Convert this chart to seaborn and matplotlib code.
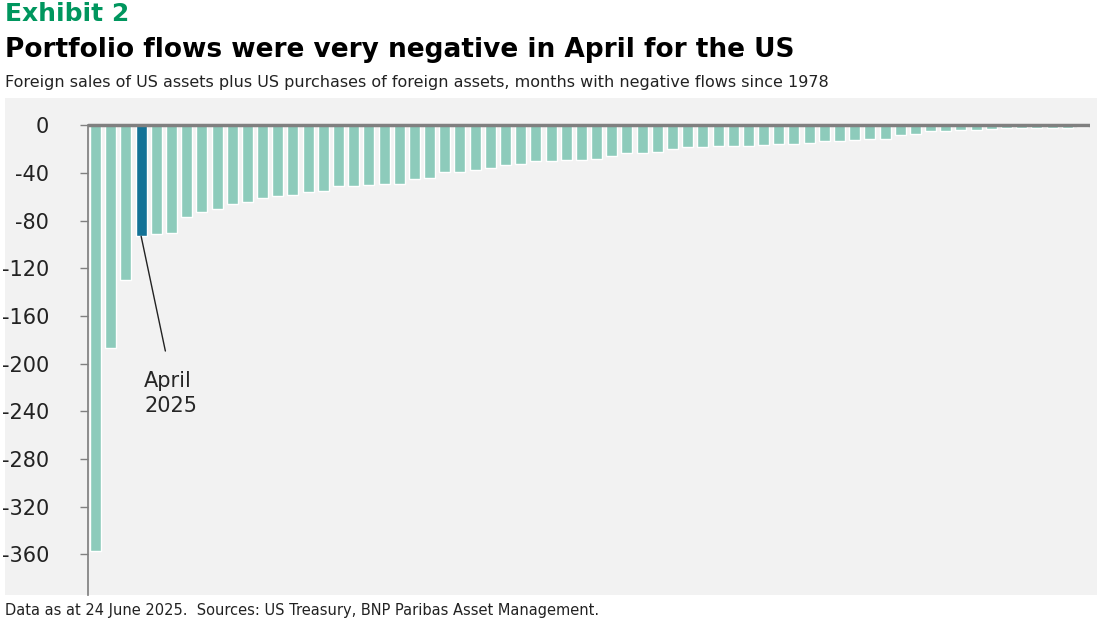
import numpy as np
import pandas as pd
import matplotlib
matplotlib.use("Agg")
import matplotlib.pyplot as plt
import seaborn as sns

# negative monthly portfolio flows, sorted (USD bn)
flows = [-357, -187, -130, -93, -91, -90, -77, -73, -70, -66, -64, -61, -59, -58,
         -56, -55, -51, -51, -50, -49, -49, -45, -44, -39, -39, -37, -36, -33,
         -32, -30, -30, -29, -29, -28, -26, -23.5, -23.5, -22.7, -20, -18.5,
         -18.5, -17.6, -17.6, -17.6, -16.8, -16, -16, -15, -13.4, -13.4, -12.6,
         -11, -11, -8.4, -7.6, -5, -5, -4.2, -4.2, -3.4, -2.5, -2.5, -2.5, -2.5,
         -2.5, -1.7]
highlight_idx = 3
yticks = [0, -40, -80, -120, -160, -200, -240, -280, -320, -360]

df = pd.DataFrame({"rank": range(len(flows)), "flow": flows})
df["hl"] = ["April 2025" if i == highlight_idx else "other" for i in df["rank"]]

sns.set_theme(style="white")
plt.rcParams['font.family'] = ['DejaVu Sans']

fig = plt.figure(figsize=(10.97, 6.24), dpi=100)
W, H = 1097, 624
# grey panel as a background axes
bg = fig.add_axes([5 / W, 1 - 595 / H, 1092 / W, 497 / H], zorder=-5)
bg.set_facecolor("#f2f2f2")
bg.set_xticks([])
bg.set_yticks([])
for s in bg.spines.values():
    s.set_visible(False)

ax = fig.add_axes([88 / W, 1 - 595 / H, (1090 - 88) / W, 497 / H], zorder=1)
ax.patch.set_alpha(0)

sns.barplot(data=df, x="rank", y="flow", hue="hl",
            palette={"other": "#8dcbbb", "April 2025": "#137296"},
            width=0.72, legend=False, ax=ax, saturation=1)

ax.set_xlim(-0.5, len(flows) - 0.5)
ax.set_ylim(-394, 23)
ax.set_yticks(yticks)
ax.set_yticklabels([str(t) for t in yticks], fontsize=15, color="#222222")
ax.set_xticks([])
ax.set_xlabel("")
ax.set_ylabel("")
for s in ["top", "right", "bottom"]:
    ax.spines[s].set_visible(False)
ax.spines["left"].set_color("#808080")
ax.spines["left"].set_bounds(-394, 0)
ax.tick_params(axis="y", length=6, width=1, color="#808080", direction="out",
               pad=22, left=True)
ax.axhline(0, color="#808080", lw=2.5, zorder=5)

ax.annotate("April\n2025", xy=(highlight_idx, flows[highlight_idx]),
            xytext=(highlight_idx + 0.2, -225), fontsize=15, linespacing=1.3,
            arrowprops=dict(arrowstyle="-", color="#222222", lw=1,
                            shrinkA=0, shrinkB=0, relpos=(0.4, 1.45)),
            va="center", ha="left")

fig.text(5 / W, 1 - 14 / H, "Exhibit 2", fontsize=18, fontweight="bold",
         color="#00965e", va="center")
fig.text(5 / W, 1 - 50 / H, "Portfolio flows were very negative in April for the US",
         fontsize=19, fontweight="bold", color="black", va="center")
fig.text(5 / W, 1 - 83 / H,
         "Foreign sales of US assets plus US purchases of foreign assets, months with negative flows since 1978",
         fontsize=11.5, color="#222222", va="center")
fig.text(5 / W, 1 - 610 / H,
         "Data as at 24 June 2025.  Sources: US Treasury, BNP Paribas Asset Management.",
         fontsize=10.5, color="#222222", va="center")

fig.savefig("out.png", dpi=100)
